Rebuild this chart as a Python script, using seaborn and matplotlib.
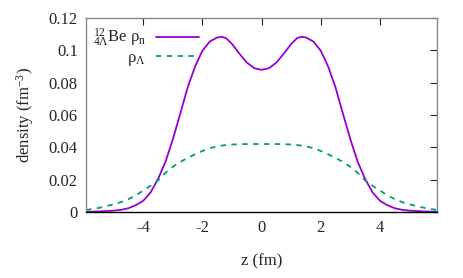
# density profiles of 12-4Lambda-Be along z

import numpy as np
import pandas as pd
import matplotlib
matplotlib.use("Agg")
import matplotlib.pyplot as plt
import seaborn as sns
from matplotlib.ticker import FuncFormatter

z = [-5.93, -5.5, -5.0, -4.75, -4.5, -4.25, -4.0, -3.75, -3.5, -3.25, -3.0, -2.75,
     -2.5, -2.25, -2.0, -1.75, -1.5, -1.35, -1.2, -1.0, -0.75, -0.5, -0.25, 0.0,
     0.25, 0.5, 0.75, 1.0, 1.2, 1.35, 1.5, 1.75, 2.0, 2.25, 2.5, 2.75, 3.0,
     3.25, 3.5, 3.75, 4.0, 4.25, 4.5, 4.75, 5.0, 5.5, 5.93]

rho_n = [0.0002, 0.0004, 0.0009, 0.0014, 0.0024, 0.0043, 0.0070, 0.0122, 0.0205,
         0.0310, 0.0450, 0.0608, 0.0770, 0.0900, 0.0998, 0.1055, 0.1080, 0.1084,
         0.1076, 0.1040, 0.0980, 0.0925, 0.0890, 0.0880,
         0.0890, 0.0925, 0.0980, 0.1040, 0.1076, 0.1084, 0.1080, 0.1055, 0.0998,
         0.0900, 0.0770, 0.0608, 0.0450, 0.0310, 0.0205, 0.0122, 0.0070, 0.0043,
         0.0024, 0.0014, 0.0009, 0.0004, 0.0002]

rho_lam = [0.0013, 0.0026, 0.0048, 0.0062, 0.0080, 0.0104, 0.0133, 0.0163, 0.0196,
           0.0243, 0.0280, 0.0310, 0.0335, 0.0358, 0.0378, 0.0395, 0.0407, 0.0411,
           0.0415, 0.0418, 0.0420, 0.0421, 0.0421, 0.0421,
           0.0421, 0.0421, 0.0420, 0.0418, 0.0415, 0.0411, 0.0407, 0.0395, 0.0378,
           0.0358, 0.0335, 0.0310, 0.0280, 0.0243, 0.0196, 0.0163, 0.0133, 0.0104,
           0.0080, 0.0062, 0.0048, 0.0026, 0.0013]

df = pd.DataFrame({"z": z, "rho_n": rho_n, "rho_lam": rho_lam})

sns.set_style("white")
plt.rcParams["font.family"] = ["Liberation Serif", "DejaVu Serif"]
plt.rcParams["mathtext.fontset"] = "custom"
plt.rcParams["mathtext.rm"] = "Liberation Serif"
plt.rcParams["mathtext.it"] = "Liberation Serif:italic"
plt.rcParams["mathtext.bf"] = "Liberation Serif:bold"
plt.rcParams["axes.unicode_minus"] = False

fig = plt.figure(figsize=(4.63, 2.78), dpi=100)
ax = fig.add_axes([0.186, 0.237, 0.758, 0.698])

sns.lineplot(data=df, x="z", y="rho_n", ax=ax, color="#9400d3", lw=1.3,
             label=r"$^{12}_{4\Lambda}$Be ρ$_{\rm n}$")
sns.lineplot(data=df, x="z", y="rho_lam", ax=ax, color="#009e73", lw=1.3,
             label=r"ρ$_{\Lambda}$")
ax.lines[1].set_linestyle((0, (3, 3)))

ax.set_xlim(-5.93, 5.93)
ax.set_ylim(0, 0.12)
ax.set_xticks([-4, -2, 0, 2, 4])
ax.set_yticks([0, 0.02, 0.04, 0.06, 0.08, 0.1, 0.12])
ax.yaxis.set_major_formatter(FuncFormatter(lambda v, p: "%g" % round(v, 3)))
ax.tick_params(direction="in", length=5, width=0.8, labelsize=12,
               top=True, right=True, color="#222222", pad=6)
for s in ["left", "top", "right"]:
    ax.spines[s].set_color("#888888")
ax.spines["bottom"].set_color("black")
for s in ax.spines.values():
    s.set_linewidth(1.0)

ax.set_xlabel("z (fm)", fontsize=12, labelpad=12)
ax.set_ylabel("density (fm$^{-3}$)", fontsize=12, labelpad=9)

leg = ax.legend(loc="upper left", bbox_to_anchor=(-0.01, 1.004), frameon=False,
                markerfirst=False, fontsize=12, handlelength=2.6, handletextpad=0.6,
                labelspacing=0.02, borderaxespad=0.2)
leg.get_lines()[1].set_linestyle((0, (3, 3)))

fig.savefig("out.png", dpi=100)
